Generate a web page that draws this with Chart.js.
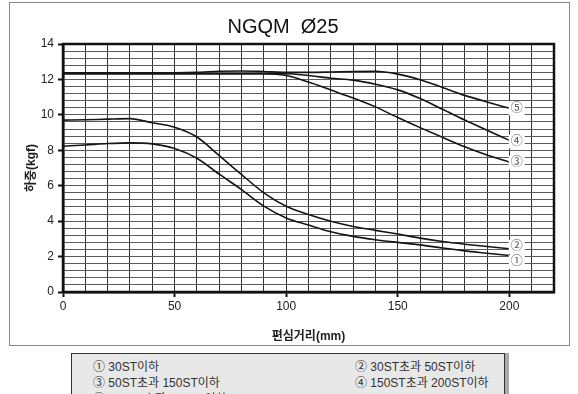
<!DOCTYPE html>
<html>
<head>
<meta charset="utf-8">
<script src="https://cdn.jsdelivr.net/npm/chart.js@4"></script>
<style>
  body { margin: 0; background: #fff; }
  #wrap { position: absolute; left: 0; top: 0; width: 578px; height: 346px; }
  #legendBox {
    position: absolute; left: 71px; top: 353px; width: 432px; height: 52px;
    background: #e8e8e8; border: 1px solid #333; box-shadow: 4px 0 0 #aaa;
    font-family: "Liberation Sans", "Noto Sans CJK KR", sans-serif; font-size: 12px; color: #333;
  }
  #legendBox span { position: absolute; white-space: nowrap; }
</style>
</head>
<body>
<div id="wrap"><canvas id="grafico"></canvas></div>
<div id="legendBox"></div>
<script>
// 편심거리 (mm)
const distancias = [0, 10, 20, 30, 40, 50, 60, 70, 80, 90, 100, 110, 120, 130, 140, 150, 160, 170, 180, 190, 200];
// 하중 (kgf) por curso
const curva1 = [8.23, 8.3, 8.38, 8.42, 8.36, 8.1, 7.55, 6.65, 5.78, 4.85, 4.18, 3.78, 3.4, 3.14, 2.95, 2.8, 2.66, 2.48, 2.32, 2.19, 2.06];
const curva2 = [9.7, 9.72, 9.76, 9.79, 9.55, 9.3, 8.75, 7.7, 6.63, 5.6, 4.84, 4.37, 3.99, 3.7, 3.48, 3.27, 3.04, 2.85, 2.7, 2.57, 2.44];
const curva3 = [12.32, 12.32, 12.32, 12.32, 12.32, 12.32, 12.32, 12.32, 12.32, 12.32, 12.22, 11.85, 11.4, 10.95, 10.45, 9.85, 9.28, 8.73, 8.2, 7.73, 7.33];
const curva4 = [12.32, 12.32, 12.32, 12.32, 12.32, 12.32, 12.32, 12.32, 12.32, 12.32, 12.32, 12.22, 12.07, 11.96, 11.73, 11.41, 10.92, 10.32, 9.71, 9.13, 8.56];
const curva5 = [12.38, 12.38, 12.38, 12.38, 12.38, 12.38, 12.4, 12.46, 12.48, 12.45, 12.4, 12.4, 12.42, 12.45, 12.46, 12.3, 11.98, 11.55, 11.1, 10.73, 10.37];

const marcas = ['①', '②', '③', '④', '⑤'];
const posMarcas = [1.7, 2.55, 7.3, 8.5, 10.37]; // y das marcas no fim das curvas
const legendas = ['① 30ST이하', '② 30ST초과 50ST이하', '③ 50ST초과 150ST이하', '④ 150ST초과 200ST이하', '⑤ 200ST초과 300ST이하'];

const fonte = '"Liberation Sans", "Noto Sans CJK KR", sans-serif';
Chart.defaults.font.family = fonte;

// legenda em caixa cinza
const box = document.getElementById('legendBox');
legendas.forEach(function(txt, i) {
    const s = document.createElement('span');
    s.textContent = txt;
    s.style.left = (i % 2 === 0 ? 21 : 283) + 'px';
    s.style.top = (3 + Math.floor(i / 2) * 16) + 'px';
    box.appendChild(s);
});

const series = [curva1, curva2, curva3, curva4, curva5];
const datasets = series.map(function(arr, i) {
    return {
        label: marcas[i],
        data: arr.map(function(v, j) { return { x: distancias[j], y: v }; }),
        borderColor: '#151515',
        borderWidth: 1.6,
        pointRadius: 0,
        cubicInterpolationMode: 'monotone',
        fill: false
    };
});

const eMultiplo = function(v, m) { return Math.abs(v / m - Math.round(v / m)) < 1e-6; };

const molduraPlugin = {
    id: 'moldura',
    beforeDraw(chart) {
        const ctx = chart.ctx;
        ctx.save();
        ctx.strokeStyle = '#888';
        ctx.lineWidth = 1;
        ctx.strokeRect(9.5, 2.5, 560, 343);
        ctx.restore();
    },
    afterDatasetsDraw(chart) {
        const ctx = chart.ctx;
        const a = chart.chartArea;
        const xs = chart.scales.x, ys = chart.scales.y;
        ctx.save();
        // marcas no fim das curvas
        ctx.font = '12px ' + fonte;
        ctx.textAlign = 'center';
        ctx.textBaseline = 'middle';
        marcas.forEach(function(m, i) {
            const px = xs.getPixelForValue(203.3);
            const py = ys.getPixelForValue(posMarcas[i]);
            ctx.fillStyle = '#fff';
            ctx.fillRect(px - 8, py - 7, 16, 14);
            ctx.fillStyle = '#555';
            ctx.fillText(m, px, py);
        });
        ctx.strokeStyle = '#111';
        ctx.lineWidth = 2.5;
        ctx.strokeRect(a.left, a.top, a.right - a.left, a.bottom - a.top);
        ctx.restore();
    }
};

new Chart(document.getElementById('grafico'), {
    type: 'line',
    data: { datasets: datasets },
    options: {
        responsive: true,
        maintainAspectRatio: false,
        animation: false,
        layout: { padding: { left: 0, right: 12, top: 0, bottom: 0 } },
        plugins: {
            legend: { display: false },
            tooltip: { enabled: false },
            title: {
                display: true,
                text: 'NGQM  Ø25',
                color: '#111',
                font: { size: 20, weight: 'normal' },
                padding: { top: 15, bottom: 5 }
            }
        },
        scales: {
            x: {
                type: 'linear',
                min: 0,
                max: 220,
                afterFit(scale) { scale.height = 54; },
                ticks: {
                    stepSize: 10,
                    autoSkip: false,
                    maxRotation: 0,
                    color: '#222',
                    font: { size: 12 },
                    padding: 2,
                    callback: function(v) { return eMultiplo(v, 50) && v <= 200 ? v : ''; }
                },
                grid: {
                    color: '#333',
                    lineWidth: 1,
                    tickLength: 5,
                    tickColor: function(c) { return eMultiplo(c.tick.value, 50) && c.tick.value <= 200 ? '#111' : 'rgba(0,0,0,0)'; },
                    tickWidth: 2
                },
                border: { color: '#111', width: 2.5 },
                title: {
                    display: true,
                    text: '편심거리(mm)',
                    color: '#222',
                    font: { size: 12, weight: 'bold' },
                    padding: { top: 0, bottom: 2 }
                }
            },
            y: {
                min: 0,
                max: 14,
                afterFit(scale) { scale.width = 63; },
                ticks: {
                    stepSize: 0.4,
                    autoSkip: false,
                    color: '#222',
                    font: { size: 12 },
                    padding: 4,
                    callback: function(v) { return eMultiplo(v, 2) ? Math.round(v) : ''; }
                },
                grid: {
                    color: '#5a5a5a',
                    lineWidth: 1,
                    tickLength: 5,
                    tickColor: function(c) { return eMultiplo(c.tick.value, 2) ? '#111' : 'rgba(0,0,0,0)'; },
                    tickWidth: 2
                },
                border: { color: '#111', width: 2.5 },
                title: {
                    display: true,
                    text: '하중(kgf)',
                    color: '#222',
                    font: { size: 12, weight: 'bold' },
                    padding: { top: 24, bottom: 0 }
                }
            },
            // eixo vazio só para reservar a margem direita
            y2: {
                position: 'right',
                display: true,
                min: 0,
                max: 14,
                afterFit(scale) { scale.width = 12; },
                ticks: { display: false },
                grid: { display: false, drawTicks: false },
                border: { display: false }
            }
        }
    },
    plugins: [molduraPlugin]
});
</script>
</body>
</html>
